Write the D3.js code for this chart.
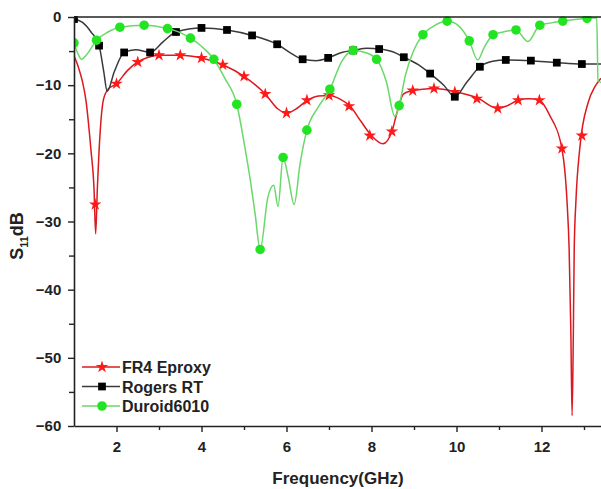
<!DOCTYPE html>
<html>
<head>
<meta charset="utf-8">
<script src="https://cdn.jsdelivr.net/npm/d3@7"></script>
<style>
  body { margin: 0; background: #fff; }
  svg text { font-family: "Liberation Sans", Arial, sans-serif; font-weight: bold; fill: #222; }
</style>
</head>
<body>
<div id="chart"></div>
<script>
// FR4 Eproxy - curve points
var fr4Freq = [1.0, 1.1, 1.2, 1.28, 1.4, 1.47, 1.51, 1.55, 1.59, 1.69, 1.8, 2.0, 2.25, 2.5, 2.75, 3.0, 3.5, 4.0, 4.5, 5.0, 5.5, 5.8, 6.0, 6.2, 6.5, 6.75, 7.0, 7.25, 7.5, 7.75, 8.0, 8.27, 8.48, 8.6, 8.75, 8.97, 9.2, 9.47, 10.0, 10.5, 10.97, 11.2, 11.45, 11.7, 11.95, 12.2, 12.48, 12.6, 12.65, 12.69, 12.72, 12.75, 12.77, 12.81, 12.9, 13.1, 13.25, 13.4];
var fr4Db   = [-5.7, -7.3, -9.5, -12.2, -19.6, -25, -31.8, -25, -19.6, -12.2, -10.6, -9.8, -7.9, -6.6, -5.9, -5.6, -5.6, -6.0, -7.0, -8.7, -11.3, -13.5, -14.1, -13.6, -12.2, -11.6, -11.5, -12.0, -13.1, -15.3, -17.4, -18.6, -16.8, -14.0, -11.3, -10.8, -10.6, -10.5, -11.0, -11.9, -13.4, -13.0, -12.2, -12.0, -12.2, -14.5, -19.3, -27, -34, -46, -58.5, -46, -34, -27, -19.3, -12.5, -10.3, -9.0];
var fr4MarkFreq = [1.5, 2.0, 2.5, 3.0, 3.5, 4.0, 4.5, 5.0, 5.5, 6.0, 6.48, 7.0, 7.47, 7.96, 8.48, 8.97, 9.47, 9.96, 10.48, 10.97, 11.45, 11.95, 12.48, 12.95];
var fr4MarkDb   = [-27.5, -9.8, -6.6, -5.6, -5.6, -6.0, -7.0, -8.7, -11.3, -14.1, -12.2, -11.5, -13.1, -17.4, -16.8, -10.8, -10.5, -11.0, -12.0, -13.4, -12.2, -12.2, -19.3, -17.4];

// Rogers RT
var rogersFreq = [1.0, 1.2, 1.4, 1.59, 1.7, 1.78, 1.95, 2.18, 2.45, 2.79, 3.1, 3.4, 4.0, 4.6, 5.19, 5.78, 6.1, 6.38, 6.7, 6.98, 7.3, 7.57, 7.9, 8.18, 8.5, 8.76, 9.1, 9.38, 9.7, 9.96, 10.25, 10.55, 10.85, 11.16, 11.75, 12.36, 12.95, 13.4];
var rogersDb   = [-0.3, -0.8, -2.2, -4.2, -8.0, -10.9, -8.0, -5.2, -4.8, -5.2, -3.6, -2.2, -1.6, -1.9, -2.7, -4.0, -5.3, -6.2, -6.4, -6.0, -5.2, -4.9, -4.6, -4.7, -5.1, -5.9, -7.0, -8.3, -10.0, -11.7, -9.5, -7.3, -6.5, -6.3, -6.4, -6.7, -6.9, -6.9];
var rogersMarkFreq = [1.0, 1.59, 2.18, 2.79, 3.4, 4.0, 4.6, 5.19, 5.78, 6.38, 6.98, 7.57, 8.18, 8.76, 9.38, 9.96, 10.55, 11.16, 11.75, 12.36, 12.95];
var rogersMarkDb   = [-0.3, -4.2, -5.2, -5.2, -2.2, -1.6, -1.9, -2.7, -4.0, -6.2, -6.0, -4.9, -4.7, -5.9, -8.3, -11.7, -7.3, -6.3, -6.4, -6.7, -6.9];

// Duroid6010
var duroidFreq = [1.0, 1.1, 1.18, 1.3, 1.53, 1.8, 2.08, 2.65, 3.2, 3.5, 3.74, 4.0, 4.29, 4.55, 4.83, 5.02, 5.15, 5.26, 5.38, 5.56, 5.7, 5.8, 5.92, 6.04, 6.18, 6.32, 6.48, 6.75, 7.02, 7.3, 7.57, 7.85, 8.12, 8.35, 8.55, 8.65, 8.8, 9.0, 9.21, 9.5, 9.78, 10.05, 10.3, 10.5, 10.65, 10.86, 11.1, 11.4, 11.68, 11.96, 12.2, 12.5, 13.07, 13.3, 13.33, 13.4];
var duroidDb   = [-3.8, -5.5, -6.2, -5.5, -3.4, -2.2, -1.5, -1.2, -1.7, -2.3, -3.1, -4.3, -6.2, -9.0, -12.8, -19.1, -24.0, -28.8, -34.1, -26.5, -24.7, -27.8, -20.6, -23.5, -27.5, -21.5, -16.6, -13.2, -10.6, -6.5, -4.9, -5.2, -6.2, -9.5, -14.6, -13.0, -8.5, -4.8, -2.6, -1.2, -0.6, -1.3, -3.5, -6.3, -4.5, -2.6, -2.2, -1.9, -3.6, -1.2, -0.9, -0.6, -0.2, -0.1, -9.3, -9.6];
var duroidMarkFreq = [1.0, 1.53, 2.08, 2.65, 3.2, 3.74, 4.29, 4.83, 5.38, 5.92, 6.48, 7.02, 7.57, 8.12, 8.65, 9.21, 9.78, 10.3, 10.86, 11.4, 11.96, 12.5, 13.07];
var duroidMarkDb   = [-3.8, -3.4, -1.5, -1.2, -1.7, -3.1, -6.2, -12.8, -34.1, -20.6, -16.6, -10.6, -4.9, -6.2, -13.0, -2.6, -0.6, -3.5, -2.6, -1.9, -1.2, -0.6, -0.2];

var xTicks = [2, 4, 6, 8, 10, 12];
var xMinor = [3, 5, 7, 9, 11, 13];
var yTicks = [0, -10, -20, -30, -40, -50, -60];
var yMinor = [-5, -15, -25, -35, -45, -55];

var width = 601,
    height = 489,
    margin = {top: 17, right: 0, bottom: 63, left: 74};

var x = d3.scaleLinear().domain([1, 13.4]).range([margin.left, width - margin.right]);
var y = d3.scaleLinear().domain([-60, 0]).range([height - margin.bottom, margin.top]);

var svg = d3.select("#chart").append("svg")
    .attr("width", width)
    .attr("height", height);

svg.append("defs").append("clipPath").attr("id", "plot")
  .append("rect")
    .attr("x", x(1)).attr("y", y(0) - 1)
    .attr("width", x(13.4) - x(1)).attr("height", y(-60) - y(0) + 2);

function zip(fs, ds) {
  return fs.map(function(f, i) { return {f: f, db: ds[i]}; });
}

var series = [
  {name: "FR4 Eproxy", pts: zip(fr4Freq, fr4Db), marks: zip(fr4MarkFreq, fr4MarkDb),
   line: "#dc1820", fill: "#ff1a1a", symbol: d3.symbolStar, size: 48},
  {name: "Rogers RT", pts: zip(rogersFreq, rogersDb), marks: zip(rogersMarkFreq, rogersMarkDb),
   line: "#3a3a3a", fill: "#000", symbol: d3.symbolSquare, size: 60},
  {name: "Duroid6010", pts: zip(duroidFreq, duroidDb), marks: zip(duroidMarkFreq, duroidMarkDb),
   line: "#6ad86a", fill: "#22e422", symbol: d3.symbolCircle, size: 72}
];

var line = d3.line()
    .x(d => x(d.f))
    .y(d => y(d.db))
    .curve(d3.curveMonotoneX);

var plot = svg.append("g").attr("clip-path", "url(#plot)");

series.forEach(function(s) {
  var g = plot.append("g");
  g.append("path")
      .attr("d", line(s.pts))
      .attr("fill", "none")
      .attr("stroke", s.line)
      .attr("stroke-width", 1.5);
  g.selectAll("path.mark")
      .data(s.marks)
      .enter().append("path")
      .attr("class", "mark")
      .attr("transform", d => "translate(" + x(d.f) + "," + y(d.db) + ")")
      .attr("d", d3.symbol().type(s.symbol).size(s.size))
      .attr("fill", s.fill);
});

// axes
var xAxis = svg.append("g")
    .attr("transform", "translate(0," + y(-60) + ")")
    .call(d3.axisBottom(x).tickValues(xTicks).tickSize(6).tickSizeOuter(0).tickFormat(d3.format("d")));
svg.append("g")
    .attr("transform", "translate(0," + y(-60) + ")")
    .call(d3.axisBottom(x).tickValues(xMinor).tickSize(4).tickFormat(""))
    .select(".domain").remove();

var yAxis = svg.append("g")
    .attr("transform", "translate(" + x(1) + ",0)")
    .call(d3.axisLeft(y).tickValues(yTicks).tickSize(6).tickSizeOuter(0).tickFormat(d3.format("d")));
svg.append("g")
    .attr("transform", "translate(" + x(1) + ",0)")
    .call(d3.axisLeft(y).tickValues(yMinor).tickSize(5).tickFormat(""))
    .select(".domain").remove();

svg.selectAll(".domain").attr("stroke", "#222").attr("stroke-width", 1.6);
svg.selectAll(".tick line").attr("stroke", "#222").attr("stroke-width", 1.4);
svg.selectAll(".tick text").style("font-size", "15px").style("font-weight", "bold").attr("fill", "#222");
xAxis.selectAll(".tick text").attr("dy", "1.1em");
yAxis.selectAll(".tick text").attr("dx", "-0.25em");

// top frame line
svg.append("line")
    .attr("x1", x(1)).attr("x2", width)
    .attr("y1", y(0)).attr("y2", y(0))
    .attr("stroke", "#222").attr("stroke-width", 1.6);

// axis titles
svg.append("text")
    .attr("x", 338).attr("y", 484)
    .attr("text-anchor", "middle")
    .style("font-size", "17px")
    .text("Frequency(GHz)");

var yt = svg.append("text")
    .attr("transform", "translate(23,236) rotate(-90)")
    .attr("text-anchor", "middle")
    .style("font-size", "18px");
yt.append("tspan").text("S");
yt.append("tspan").attr("dy", 5).style("font-size", "11px").text("11");
yt.append("tspan").attr("dy", -5).text("dB");

// legend
var legend = svg.append("g").attr("transform", "translate(82,367)");
series.forEach(function(s, i) {
  var g = legend.append("g").attr("transform", "translate(0," + (i * 19.5) + ")");
  g.append("line")
      .attr("x1", 0).attr("x2", 38)
      .attr("stroke", s.line).attr("stroke-width", 1.5);
  g.append("path")
      .attr("transform", "translate(20,0)")
      .attr("d", d3.symbol().type(s.symbol).size(s.size))
      .attr("fill", s.fill);
  g.append("text")
      .attr("x", 40).attr("y", 6)
      .style("font-size", "16px")
      .text(s.name);
});
</script>
</body>
</html>
